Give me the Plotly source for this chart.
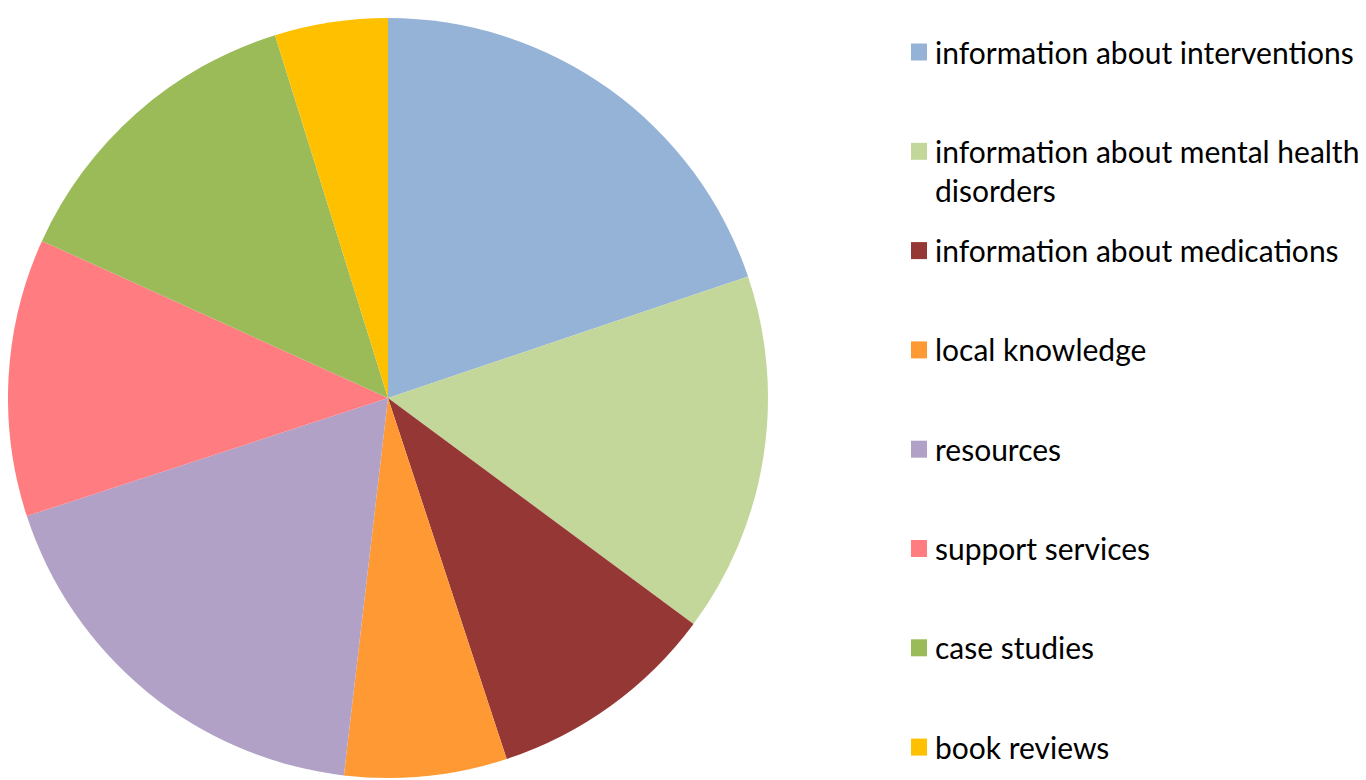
import textwrap
import plotly.graph_objects as go

categories = [
    "information about interventions",
    "information about mental health disorders",
    "information about medications",
    "local knowledge",
    "resources",
    "support services",
    "case studies",
    "book reviews",
]
shares = [19.8, 15.3, 9.8, 6.9, 18.1, 11.8, 13.4, 4.8]
colors = ["#95B3D7", "#C4D79B", "#953735", "#FF9933",
          "#B2A1C7", "#FF7C80", "#9BBB59", "#FFC000"]

W, H = 1366, 780
OFF = 8  # page body margin compensation
cx, cy, r = 388 - OFF, 398 - OFF, 380

fig = go.Figure(go.Pie(
    labels=categories,
    values=shares,
    sort=False,
    direction="clockwise",
    rotation=0,
    marker=dict(colors=colors, line=dict(width=0)),
    textinfo="none",
    hoverinfo="label+percent",
    showlegend=False,
    domain=dict(x=[max(0, (cx - r) / W), (cx + r) / W],
                y=[(H - cy - r) / H, (H - cy + r) / H]),
))

font_size = 30
sq = 17
first_center = 52 - OFF
step = 99.3
for i, (lab, col) in enumerate(zip(categories, colors)):
    yc = first_center + i * step
    fig.add_shape(type="rect", xref="paper", yref="paper",
                  x0=(911 - OFF) / W, x1=(911 - OFF + 16) / W,
                  y0=1 - (yc - sq / 2) / H, y1=1 - (yc + sq / 2) / H,
                  fillcolor=col, line=dict(width=0))
    text = "<br>".join(textwrap.wrap(lab, 34))
    ytop = yc - 0.65 * font_size - 1
    fig.add_annotation(xref="paper", yref="paper", x=(933 - OFF) / W, y=1 - ytop / H,
                       xanchor="left", yanchor="top", align="left", showarrow=False,
                       text=text, font=dict(family="Lato", size=font_size, color="#000000"))

fig.update_layout(width=W, height=H, margin=dict(l=0, r=0, t=0, b=0),
                  paper_bgcolor="white", plot_bgcolor="white")
fig.write_html("out.html")
